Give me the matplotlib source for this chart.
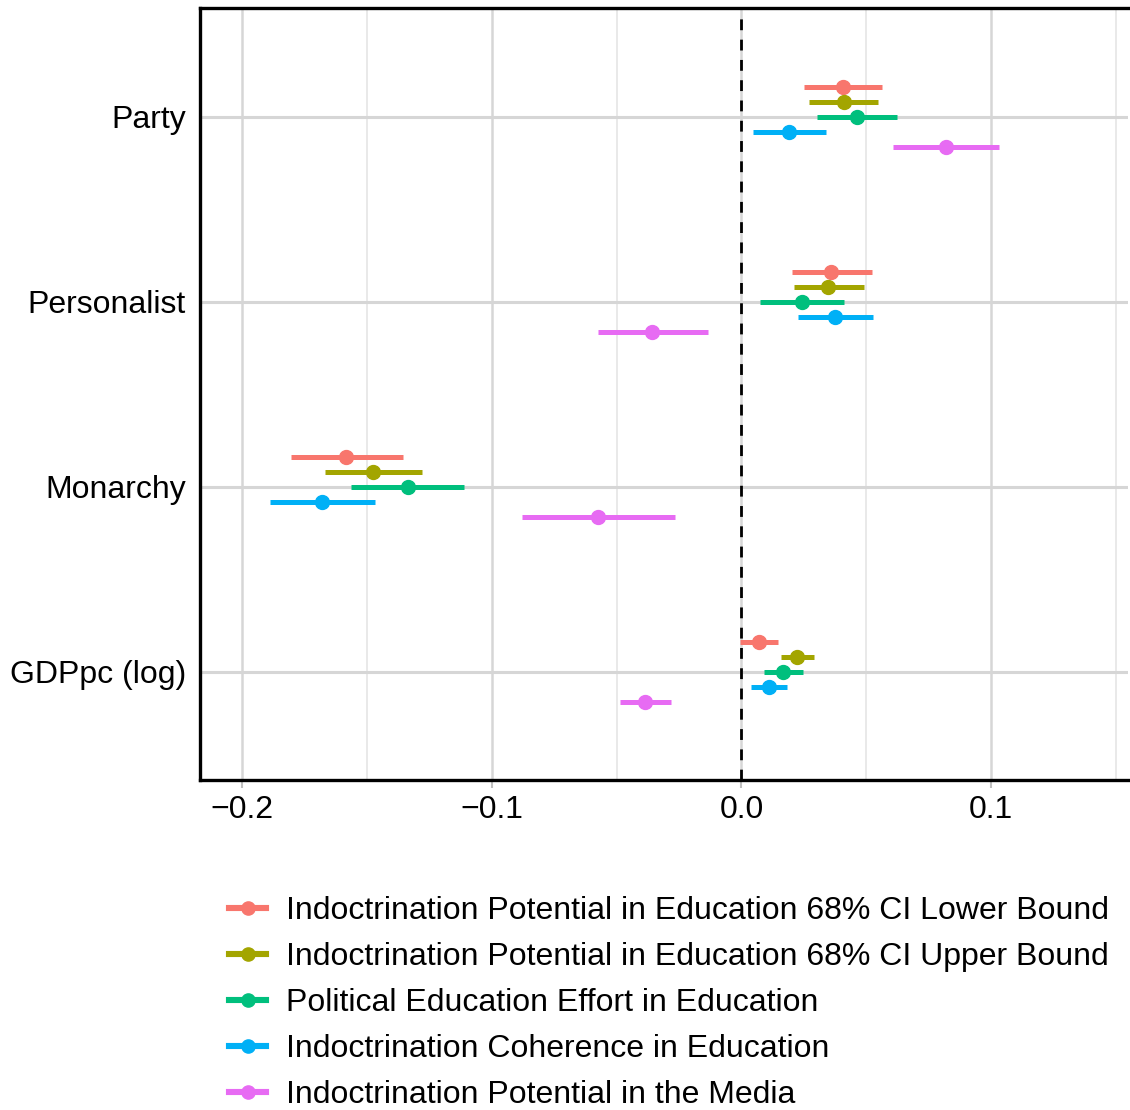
import matplotlib
matplotlib.use("Agg")
import matplotlib.pyplot as plt
from matplotlib.ticker import MultipleLocator
import numpy as np

plt.rcParams['font.family'] = ['Liberation Sans', 'DejaVu Sans']

# Predictors (top to bottom)
terms = ["Party", "Personalist", "Monarchy", "GDPpc (log)"]

series = [
    "Indoctrination Potential in Education 68% CI Lower Bound",
    "Indoctrination Potential in Education 68% CI Upper Bound",
    "Political Education Effort in Education",
    "Indoctrination Coherence in Education",
    "Indoctrination Potential in the Media",
]
colors = ["#F8766D", "#A3A500", "#00BF7D", "#00B0F6", "#E76BF3"]

# Estimates and interval bounds, one list per series, ordered as `terms`
est = [
    [0.0405, 0.0360, -0.1583, 0.0069],
    [0.0410, 0.0345, -0.1475, 0.0223],
    [0.0463, 0.0243, -0.1337, 0.0167],
    [0.0189, 0.0373, -0.1681, 0.0109],
    [0.0819, -0.0357, -0.0573, -0.0387],
]
low = [
    [0.0249, 0.0201, -0.1805, -0.0007],
    [0.0272, 0.0209, -0.1669, 0.0157],
    [0.0304, 0.0076, -0.1563, 0.0092],
    [0.0045, 0.0225, -0.1888, 0.0039],
    [0.0605, -0.0575, -0.0877, -0.0488],
]
high = [
    [0.0563, 0.0524, -0.1357, 0.0147],
    [0.0547, 0.0489, -0.1279, 0.0291],
    [0.0624, 0.0412, -0.1109, 0.0247],
    [0.0340, 0.0525, -0.1469, 0.0183],
    [0.1033, -0.0135, -0.0265, -0.0280],
]

W, H = 1130, 1110
fig = plt.figure(figsize=(W / 100, H / 100), dpi=100)
ax = fig.add_axes([200 / W, 1 - 780 / H, 928 / W, (780 - 8) / H])

ypos = np.arange(len(terms))[::-1] + 1.0  # Party at top
step = 15 / 185
offsets = [2 * step, step, 0, -step, -2 * step]

for i in range(len(series)):
    y = ypos + offsets[i]
    ax.hlines(y, low[i], high[i], color=colors[i], lw=3.6, zorder=3)
    ax.plot(est[i], y, 'o', color=colors[i], ms=10, zorder=4)
    ax.plot([], [], '-o', color=colors[i], lw=4.4, ms=9.5, label=series[i])

ax.axvline(0, color="black", lw=2, dashes=(3.9, 3.4), zorder=5)

ax.set_xlim(-0.2168, 0.1548)
ax.set_ylim(0.416, 4.589)
ax.xaxis.set_major_locator(MultipleLocator(0.1))
ax.xaxis.set_minor_locator(MultipleLocator(0.05))
ax.set_xticks([-0.2, -0.1, 0.0, 0.1])
ax.set_xticklabels(["\u22120.2", "\u22120.1", "0.0", "0.1"])
ax.set_yticks(ypos)
ax.set_yticklabels(terms)

ax.grid(axis="x", which="major", color="#d6d6d6", lw=1.8, zorder=0)
ax.grid(axis="x", which="minor", color="#e3e3e3", lw=1.1, zorder=0)
ax.grid(axis="y", which="major", color="#d6d6d6", lw=2.2, zorder=0)
ax.set_axisbelow(True)

ax.tick_params(axis="x", which="major", length=6, width=1.5, color="#bfbfbf",
               labelsize=23, labelcolor="black", pad=5)
ax.tick_params(axis="x", which="minor", length=0)
ax.tick_params(axis="y", length=0, labelsize=23, labelcolor="black", pad=10)

for side in ["left", "bottom", "top"]:
    ax.spines[side].set_linewidth(2.4)
    ax.spines[side].set_color("black")
ax.spines["right"].set_visible(False)

fig.legend(loc="upper left", bbox_to_anchor=(229 / W, 1 - 896 / H),
           frameon=False, fontsize=23, handlelength=1.16, handletextpad=0.63,
           labelspacing=0.5, borderaxespad=0, borderpad=0)

fig.savefig("out.png", dpi=100, facecolor="white")
